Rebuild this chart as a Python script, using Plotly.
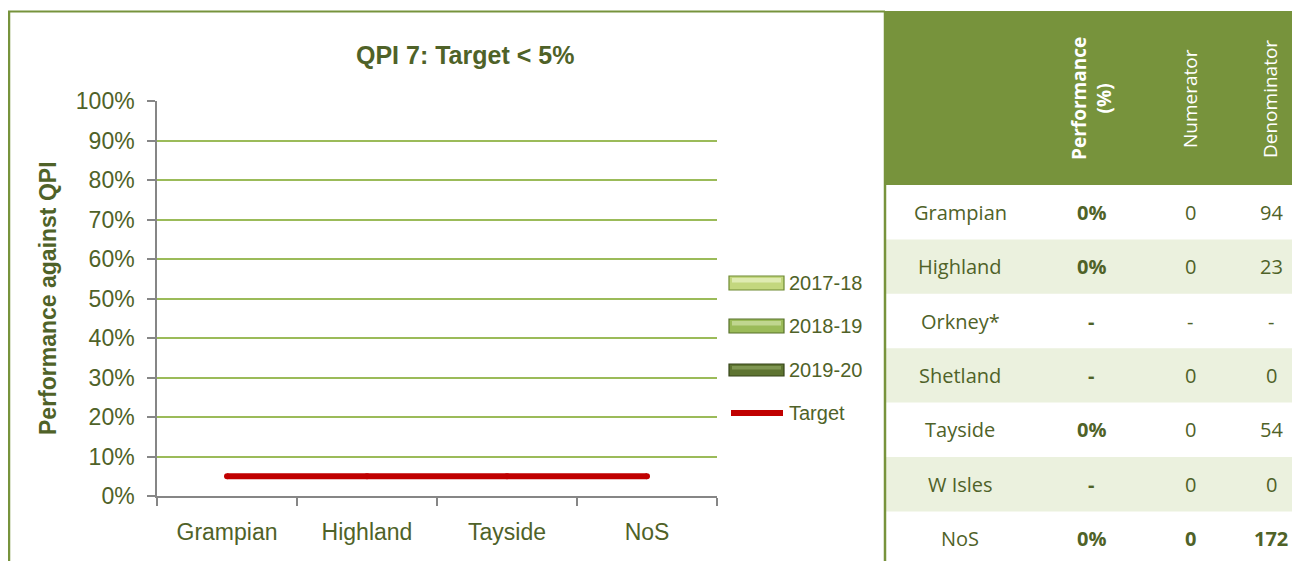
import plotly.graph_objects as go

# ---------------- data ----------------
categories = ["Grampian", "Highland", "Tayside", "NoS"]
series_names = ["2017-18", "2018-19", "2019-20"]
values_2017_18 = [0, 0, 0, 0]
values_2018_19 = [0, 0, 0, 0]
values_2019_20 = [0, 0, 0, 0]
target_values = [0.05, 0.05, 0.05, 0.05]
y_ticks = [0, 0.1, 0.2, 0.3, 0.4, 0.5, 0.6, 0.7, 0.8, 0.9, 1.0]

table_regions = ["Grampian", "Highland", "Orkney*", "Shetland", "Tayside", "W Isles", "NoS"]
table_perf = ["0%", "0%", "-", "-", "0%", "-", "0%"]
table_num = ["0", "0", "-", "0", "0", "0", "0"]
table_den = ["94", "23", "-", "0", "54", "0", "172"]
table_headers = ["Performance<br>(%)", "Numerator", "Denominator"]

# ---------------- styles ----------------
# the page body has an 8px margin; the figure is sized to fit inside the window
OX, OY = 8, 8
W, H = 1292, 553
DARK = "#4F6228"
GREEN = "#77933C"
GRID = "#9BBB59"
AXIS = "#868686"
LIGHT_ROW = "#EBF1DE"
RED = "#C00000"
CHART_FONT = "Liberation Sans, Arial, sans-serif"
TABLE_FONT = "Open Sans, sans-serif"

bar_styles = {
    "2017-18": dict(fill="#C3D77E", hi="#DFEBB2", edge="#6E8A33"),
    "2018-19": dict(fill="#9BBB59", hi="#C0D68F", edge="#56702A"),
    "2019-20": dict(fill="#5E7431", hi="#7F9652", edge="#36451A"),
}


def px(x):
    return (x - OX) / W


def py(y):
    return 1 - (y - OY) / H


fig = go.Figure()

for name, vals in zip(series_names, [values_2017_18, values_2018_19, values_2019_20]):
    fig.add_trace(go.Bar(
        x=categories, y=vals, name=name,
        marker=dict(color=bar_styles[name]["fill"], line=dict(width=0)),
        showlegend=False,
    ))

fig.add_trace(go.Scatter(
    x=categories, y=target_values, name="Target", mode="lines+markers",
    line=dict(color=RED, width=6),
    marker=dict(color=RED, size=6),
    showlegend=False,
))

shapes = []
annotations = []

# chart frame (green lines)
shapes.append(dict(type="line", xref="paper", yref="paper",
                   x0=px(8), x1=px(885), y0=py(11.5), y1=py(11.5),
                   line=dict(color=GREEN, width=2)))
shapes.append(dict(type="line", xref="paper", yref="paper",
                   x0=px(9), x1=px(9), y0=py(11), y1=py(561),
                   line=dict(color=GREEN, width=2.5)))

# title
annotations.append(dict(text="<b>QPI 7: Target < 5%</b>", xref="paper", yref="paper",
                        x=px(465), y=py(55), xanchor="center", yanchor="middle",
                        showarrow=False, font=dict(family=CHART_FONT, size=25, color=DARK)))
# y-axis title
annotations.append(dict(text="<b>Performance against QPI</b>", xref="paper", yref="paper",
                        x=px(48), y=py(298), xanchor="center", yanchor="middle",
                        textangle=-90, showarrow=False,
                        font=dict(family=CHART_FONT, size=23, color=DARK)))

# custom legend
legend_rows = [(283, "2017-18"), (326, "2018-19"), (370, "2019-20")]
for yc, name in legend_rows:
    st = bar_styles[name]
    h = 14 if name != "2019-20" else 12
    shapes.append(dict(type="rect", xref="paper", yref="paper",
                       x0=px(729), x1=px(784), y0=py(yc - h / 2), y1=py(yc + h / 2),
                       fillcolor=st["fill"], line=dict(color=st["edge"], width=1.2)))
    shapes.append(dict(type="rect", xref="paper", yref="paper",
                       x0=px(732), x1=px(781), y0=py(yc - h / 2 + 2), y1=py(yc - 0.5),
                       fillcolor=st["hi"], line=dict(width=0)))
    annotations.append(dict(text=name, xref="paper", yref="paper",
                            x=px(787), y=py(yc), xanchor="left", yanchor="middle",
                            showarrow=False, font=dict(family=CHART_FONT, size=20, color=DARK)))
shapes.append(dict(type="line", xref="paper", yref="paper",
                   x0=px(731), x1=px(783), y0=py(413), y1=py(413),
                   line=dict(color=RED, width=6)))
annotations.append(dict(text="Target", xref="paper", yref="paper",
                        x=px(787), y=py(413), xanchor="left", yanchor="middle",
                        showarrow=False, font=dict(family=CHART_FONT, size=20, color=DARK)))

# ---------------- table ----------------
TX0, TX1 = 884, 1300
HDR_TOP, HDR_BOT = 11, 185
ROW_H = 54.4
shapes.append(dict(type="rect", xref="paper", yref="paper",
                   x0=px(TX0), x1=px(TX1), y0=py(HDR_BOT), y1=py(HDR_TOP),
                   fillcolor=GREEN, line=dict(width=0), layer="below"))
for i in range(len(table_regions)):
    if i % 2 == 1:
        shapes.append(dict(type="rect", xref="paper", yref="paper",
                           x0=px(TX0), x1=px(TX1),
                           y0=py(HDR_BOT + (i + 1) * ROW_H), y1=py(HDR_BOT + i * ROW_H),
                           fillcolor=LIGHT_ROW, line=dict(width=0), layer="below"))
shapes.append(dict(type="line", xref="paper", yref="paper",
                   x0=px(885), x1=px(885), y0=py(11), y1=py(561),
                   line=dict(color=GREEN, width=2.5)))

col_x = [960, 1091, 1190, 1271]
header_x = [1091, 1190, 1270]
for hx, htxt, bold in zip(header_x, table_headers, [True, False, False]):
    annotations.append(dict(text=f"<b>{htxt}</b>" if bold else htxt,
                            xref="paper", yref="paper",
                            x=px(hx), y=py(99), xanchor="center", yanchor="middle",
                            textangle=-90, showarrow=False, align="center",
                            font=dict(family=TABLE_FONT, size=19, color="white")))

for i, (reg, pf, nm, dn) in enumerate(zip(table_regions, table_perf, table_num, table_den)):
    yc = HDR_BOT + (i + 0.5) * ROW_H
    last = reg == "NoS"
    cells = [(reg, False), (pf, True), (nm, last), (dn, last)]
    for cx, (txt, bold) in zip(col_x, cells):
        annotations.append(dict(text=f"<b>{txt}</b>" if bold else txt,
                                xref="paper", yref="paper",
                                x=px(cx), y=py(yc), xanchor="center", yanchor="middle",
                                showarrow=False,
                                font=dict(family=TABLE_FONT, size=20, color=DARK)))

fig.update_layout(
    width=W, height=H,
    margin=dict(l=0, r=0, t=0, b=0, pad=0),
    paper_bgcolor="white", plot_bgcolor="white",
    barmode="group",
    showlegend=False,
    shapes=shapes,
    annotations=annotations,
    xaxis=dict(
        domain=[px(157), px(717)],
        automargin=False,
        type="category", categoryorder="array", categoryarray=categories,
        tickson="boundaries", ticks="outside", ticklen=8, tickcolor=AXIS, tickwidth=1.5,
        showline=True, linecolor=AXIS, linewidth=1.5,
        showgrid=False, zeroline=False,
        tickfont=dict(family=CHART_FONT, size=23, color=DARK),
        ticklabelstandoff=15,
    ),
    yaxis=dict(
        domain=[py(496), py(101)],
        automargin=False,
        range=[0, 1], tickvals=y_ticks, tickformat=".0%",
        ticks="outside", ticklen=8, tickcolor=AXIS, tickwidth=1.5,
        showline=True, linecolor=AXIS, linewidth=1.5,
        showgrid=True, gridcolor=GRID, gridwidth=1.5,
        zeroline=False,
        tickfont=dict(family=CHART_FONT, size=23, color=DARK),
        ticklabelstandoff=8,
    ),
)

fig.write_html("out.html")
